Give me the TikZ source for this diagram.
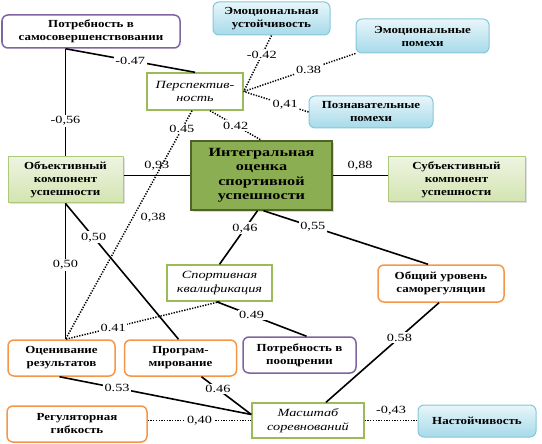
\documentclass[tikz,border=0pt]{standalone}
\usepackage{fontspec}
\setmainfont{Liberation Serif}[FakeStretch=1.3]
\newfontfamily\boxfam{Liberation Serif}[FakeStretch=1.2]
\usepackage{xcolor}
\usepackage{tikz}
\usetikzlibrary{positioning, shadows}
\definecolor{purpleline}{HTML}{8064A2}
\definecolor{orangeline}{HTML}{F79646}
\definecolor{greenline}{HTML}{9BBB59}
\definecolor{greenlight}{HTML}{EEF4E1}
\definecolor{greenmid}{HTML}{D3E4B0}
\definecolor{greendark}{HTML}{4F6228}
\definecolor{greencore}{HTML}{8CAE52}
\definecolor{cyanline}{HTML}{86C6D8}
\definecolor{cyanlight}{HTML}{E8F6FA}
\definecolor{cyanmid}{HTML}{A6DAE9}
\tikzset{
  boxfont/.style = {font=\boxfam\fontsize{10.8}{13}\selectfont\bfseries},
  need/.style    = {rectangle, rounded corners=6pt, draw=purpleline, line width=1.5pt,
                    fill=white, align=center, boxfont, inner sep=1pt},
  emo/.style     = {rectangle, rounded corners=6pt, draw=cyanline, line width=1pt,
                    top color=cyanlight, bottom color=cyanmid, align=center,
                    boxfont, inner sep=1pt},
  factor/.style  = {rectangle, draw=greenline, line width=1.4pt, fill=white,
                    align=center, font=\fontsize{11}{13.5}\selectfont\itshape, inner sep=1pt},
  comp/.style    = {rectangle, draw=greenline!80, line width=1pt,
                    top color=greenlight, bottom color=greenmid, align=center,
                    boxfont, inner sep=1pt,
                    drop shadow={shadow xshift=1.5pt, shadow yshift=-1.5pt, opacity=0.25}},
  core/.style    = {rectangle, draw=greendark, line width=1.5pt, fill=greencore,
                    align=center, font=\fontsize{12.5}{14.5}\selectfont\bfseries, inner sep=1pt,
                    drop shadow={shadow xshift=2pt, shadow yshift=-2pt, opacity=0.3}},
  selfreg/.style = {rectangle, rounded corners=6pt, draw=orangeline, line width=1.5pt,
                    fill=white, align=center, boxfont, inner sep=1pt},
  lnk/.style     = {line width=1.6pt, draw=black},
  dlnk/.style    = {line width=1.5pt, draw=black, dash pattern=on 1.3pt off 1.4pt},
  coef/.style    = {fill=white, inner sep=1.5pt},
}
\begin{document}
\begin{tikzpicture}[x=1pt, y=-1pt, font=\fontsize{11}{13}\selectfont]
  \useasboundingbox (0,0) rectangle (542,444);

  % boxes
  \node[need, minimum width=178pt, minimum height=33pt] (selfimp) at (91,31.5) {Потребность в\\самосовершенствовании};
  \node[emo, minimum width=117pt, minimum height=33pt] (emstab) at (271.5,18.5) {Эмоциональная\\устойчивость};
  \node[emo, minimum width=133pt, minimum height=34pt] (emnoise) at (422.5,36) {Эмоциональные\\помехи};
  \node[emo, minimum width=124pt, minimum height=32pt] (cognoise) at (371,112) {Познавательные\\помехи};
  \node[factor, minimum width=96pt, minimum height=37pt] (persp) at (195,91.5) {Перспектив-\\ность};

  \node[core, minimum width=141pt, minimum height=69pt] (integ) at (261.5,175.5) {Интегральная\\оценка\\спортивной\\успешности};
  \node[comp, minimum width=115pt, minimum height=46pt] (objc) at (65.5,180) {Объективный\\компонент\\успешности};
  \node[comp, minimum width=137pt, minimum height=45pt] (subjc) at (456.5,179.5) {Субъективный\\компонент\\успешности};

  \node[factor, minimum width=105pt, minimum height=36pt] (qualif) at (219.5,283) {Спортивная\\квалификация};
  \node[selfreg, minimum width=126pt, minimum height=37pt] (genreg) at (441,283.5) {Общий уровень\\саморегуляции};

  \node[selfreg, minimum width=107pt, minimum height=36pt] (evalres) at (61.5,358) {Оценивание\\результатов};
  \node[selfreg, minimum width=112pt, minimum height=36pt, right=8pt of evalres] (program) {Програм-\\мирование};
  \node[need, minimum width=113pt, minimum height=36pt] (reward) at (299.5,355) {Потребность в\\поощрении};

  \node[selfreg, minimum width=140pt, minimum height=36pt] (flex) at (77,424) {Регуляторная\\гибкость};
  \node[factor, minimum width=112pt, minimum height=35pt] (compet) at (308,420.5) {Масштаб\\соревнований};
  \node[emo, minimum width=118pt, minimum height=32pt] (persist) at (477,421) {Настойчивость};

  % meeting points
  \coordinate (top) at (selfimp.south -| objc.north);
  \coordinate (hub) at (objc.south |- evalres.north);
  \coordinate (mid) at ([yshift=6pt]compet.west);

  % links
  \draw[lnk] (top) -- node[coef] {-0.47} (persp.north);
  \draw[lnk] (top) -- node[coef, pos=0.67] {-0,56} (objc.north);
  \draw[dlnk] (emstab.south) -- node[coef, pos=0.35] {-0.42} (persp.east);
  \draw[dlnk] (emnoise.south west) -- node[coef, pos=0.42] {0.38} (persp.east);
  \draw[dlnk] (cognoise.west) -- node[coef, pos=0.36] {0,41} (persp.east);
  \draw[dlnk] ([xshift=15pt]persp.south) -- node[coef] {0.42} (integ.north);
  \draw[dlnk] ([xshift=-3pt]persp.south) -- node[coef, pos=0.08] {0.45}
        node[pos=0.47, right=4pt] {0,38} (hub);

  \draw[lnk] (objc.east |- integ.west) -- node[above=1pt] {0,93} (integ.west);
  \draw[lnk] (integ.east) -- node[above=1pt] {0,88} (subjc.west |- integ.east);
  \draw[lnk] (objc.south) -- node[coef, pos=0.45] {0,50} (hub);
  \draw[lnk] (objc.south) -- node[coef, pos=0.25] {0,50} ([xshift=-2pt]program.north);
  \draw[lnk] ([xshift=-4pt]integ.south) -- node[coef, pos=0.33] {0,46} (qualif.north);
  \draw[lnk] ([xshift=2pt]integ.south) -- node[coef, pos=0.3] {0,55} ([xshift=-13pt]genreg.north);

  \draw[dlnk] (qualif.south) -- node[coef, pos=0.69] {0.41} (hub);
  \draw[lnk] ([xshift=-3pt]qualif.south) -- node[coef, pos=0.39] {0.49} ([xshift=7pt]reward.north);
  \draw[lnk] ([xshift=-2pt]genreg.south) -- node[coef, pos=0.35] {0.58} ([xshift=18pt]compet.north);
  \draw[lnk] ([xshift=-2pt]evalres.south) -- node[coef, pos=0.3] {0.53} (mid);
  \draw[lnk] ([xshift=21pt]program.south) -- node[coef, pos=0.33] {0.46} (mid);
  \draw[dlnk] (flex.east |- compet.west) -- node[coef] {0,40} (compet.west);
  \draw[dlnk] (compet.east) -- node[above=1pt] {-0,43} (persist.west |- compet.east);

\end{tikzpicture}
\end{document}
